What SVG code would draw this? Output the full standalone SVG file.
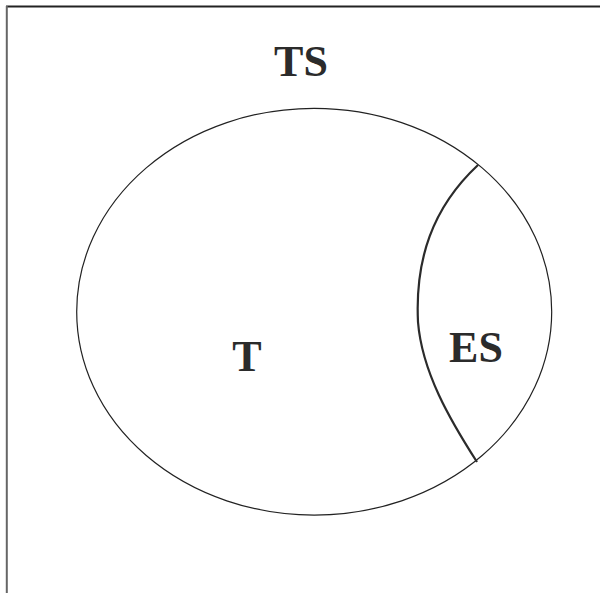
<svg xmlns="http://www.w3.org/2000/svg" width="600" height="593" viewBox="0 0 600 593">
<style>
.lbl{font-weight:700;font-size:44px;fill:#2b2b2b;text-anchor:middle}
</style>
<rect width="600" height="593" fill="#ffffff"/>
<g id="frame">
<line x1="6" y1="6.5" x2="600" y2="6.5" stroke="#222" stroke-width="2"/>
<line x1="6.8" y1="6" x2="6.8" y2="593" stroke="#666" stroke-width="2"/>
</g>
<g id="TS">
<text class="lbl" font-family="Liberation Serif, serif" x="301" y="76">TS</text>
</g>
<g id="ellipse">
<ellipse cx="314.2" cy="311.7" rx="237.5" ry="203.4" fill="none" stroke="#222" stroke-width="1.2"/>
</g>
<g id="T">
<text class="lbl" font-family="Liberation Serif, serif" x="247" y="371">T</text>
</g>
<g id="ES">
<path d="M478,165 C432,208 415,260 418,322 C422,372 450,420 477,462" fill="none" stroke="#2b2b2b" stroke-width="2.2"/>
<text class="lbl" font-family="Liberation Serif, serif" x="476" y="362">ES</text>
</g>
</svg>
